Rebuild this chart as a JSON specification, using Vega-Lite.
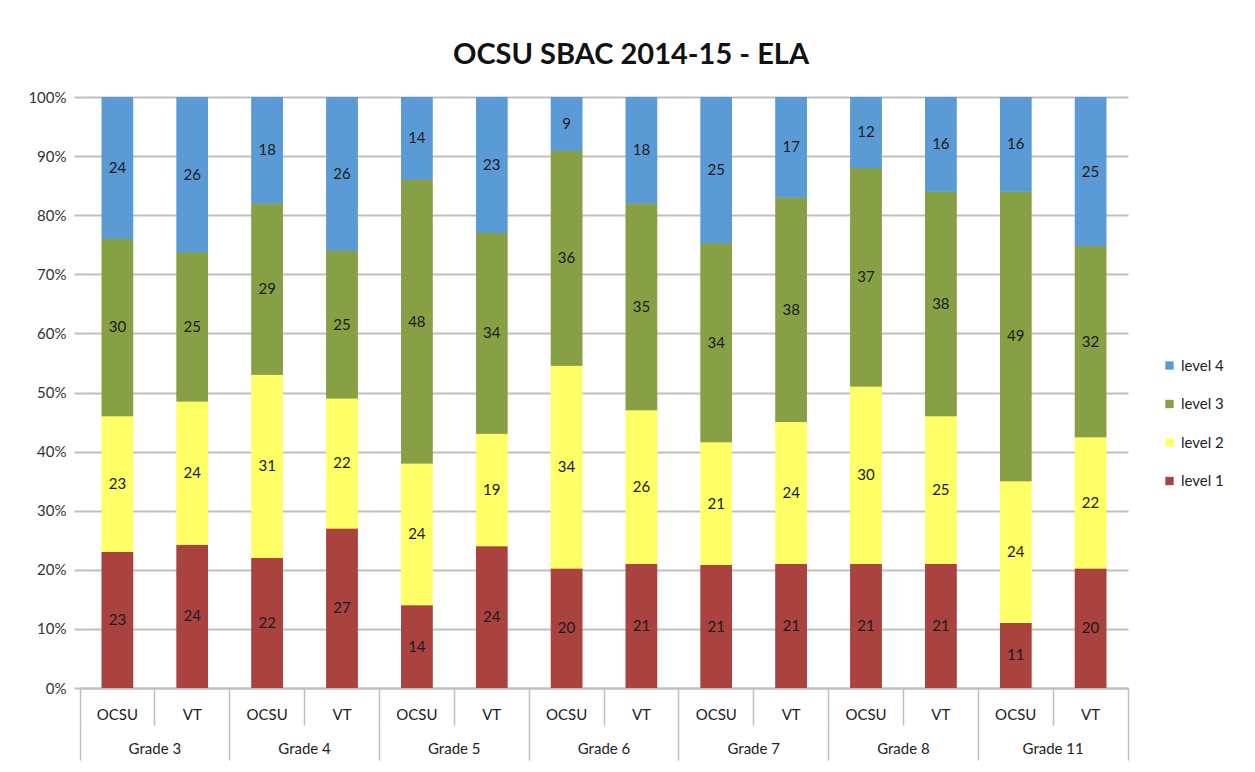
{
  "$schema": "https://vega.github.io/schema/vega-lite/v6.json",
  "width": 1048,
  "height": 591,
  "autosize": {"type": "none"},
  "padding": {"left": 80, "top": 97, "right": 127, "bottom": 84},
  "background": "white",
  "config": {"view": {"stroke": null}, "font": "Lato"},
  "title": {"text": "OCSU SBAC 2014-15 - ELA", "fontSize": 29, "font": "Lato", "fontWeight": "bold", "color": "#111111", "anchor": "middle", "frame": "group", "offset": 20, "dx": 27},
  "data": {"values": [
    {"bar": "Grade 3|OCSU", "level": "level 1", "value": 23},
    {"bar": "Grade 3|OCSU", "level": "level 2", "value": 23},
    {"bar": "Grade 3|OCSU", "level": "level 3", "value": 30},
    {"bar": "Grade 3|OCSU", "level": "level 4", "value": 24},
    {"bar": "Grade 3|VT", "level": "level 1", "value": 24},
    {"bar": "Grade 3|VT", "level": "level 2", "value": 24},
    {"bar": "Grade 3|VT", "level": "level 3", "value": 25},
    {"bar": "Grade 3|VT", "level": "level 4", "value": 26},
    {"bar": "Grade 4|OCSU", "level": "level 1", "value": 22},
    {"bar": "Grade 4|OCSU", "level": "level 2", "value": 31},
    {"bar": "Grade 4|OCSU", "level": "level 3", "value": 29},
    {"bar": "Grade 4|OCSU", "level": "level 4", "value": 18},
    {"bar": "Grade 4|VT", "level": "level 1", "value": 27},
    {"bar": "Grade 4|VT", "level": "level 2", "value": 22},
    {"bar": "Grade 4|VT", "level": "level 3", "value": 25},
    {"bar": "Grade 4|VT", "level": "level 4", "value": 26},
    {"bar": "Grade 5|OCSU", "level": "level 1", "value": 14},
    {"bar": "Grade 5|OCSU", "level": "level 2", "value": 24},
    {"bar": "Grade 5|OCSU", "level": "level 3", "value": 48},
    {"bar": "Grade 5|OCSU", "level": "level 4", "value": 14},
    {"bar": "Grade 5|VT", "level": "level 1", "value": 24},
    {"bar": "Grade 5|VT", "level": "level 2", "value": 19},
    {"bar": "Grade 5|VT", "level": "level 3", "value": 34},
    {"bar": "Grade 5|VT", "level": "level 4", "value": 23},
    {"bar": "Grade 6|OCSU", "level": "level 1", "value": 20},
    {"bar": "Grade 6|OCSU", "level": "level 2", "value": 34},
    {"bar": "Grade 6|OCSU", "level": "level 3", "value": 36},
    {"bar": "Grade 6|OCSU", "level": "level 4", "value": 9},
    {"bar": "Grade 6|VT", "level": "level 1", "value": 21},
    {"bar": "Grade 6|VT", "level": "level 2", "value": 26},
    {"bar": "Grade 6|VT", "level": "level 3", "value": 35},
    {"bar": "Grade 6|VT", "level": "level 4", "value": 18},
    {"bar": "Grade 7|OCSU", "level": "level 1", "value": 21},
    {"bar": "Grade 7|OCSU", "level": "level 2", "value": 21},
    {"bar": "Grade 7|OCSU", "level": "level 3", "value": 34},
    {"bar": "Grade 7|OCSU", "level": "level 4", "value": 25},
    {"bar": "Grade 7|VT", "level": "level 1", "value": 21},
    {"bar": "Grade 7|VT", "level": "level 2", "value": 24},
    {"bar": "Grade 7|VT", "level": "level 3", "value": 38},
    {"bar": "Grade 7|VT", "level": "level 4", "value": 17},
    {"bar": "Grade 8|OCSU", "level": "level 1", "value": 21},
    {"bar": "Grade 8|OCSU", "level": "level 2", "value": 30},
    {"bar": "Grade 8|OCSU", "level": "level 3", "value": 37},
    {"bar": "Grade 8|OCSU", "level": "level 4", "value": 12},
    {"bar": "Grade 8|VT", "level": "level 1", "value": 21},
    {"bar": "Grade 8|VT", "level": "level 2", "value": 25},
    {"bar": "Grade 8|VT", "level": "level 3", "value": 38},
    {"bar": "Grade 8|VT", "level": "level 4", "value": 16},
    {"bar": "Grade 11|OCSU", "level": "level 1", "value": 11},
    {"bar": "Grade 11|OCSU", "level": "level 2", "value": 24},
    {"bar": "Grade 11|OCSU", "level": "level 3", "value": 49},
    {"bar": "Grade 11|OCSU", "level": "level 4", "value": 16},
    {"bar": "Grade 11|VT", "level": "level 1", "value": 20},
    {"bar": "Grade 11|VT", "level": "level 2", "value": 22},
    {"bar": "Grade 11|VT", "level": "level 3", "value": 32},
    {"bar": "Grade 11|VT", "level": "level 4", "value": 25}
  ]},
  "layer": [
    {
      "mark": {"type": "bar", "width": {"band": 0.42}},
      "encoding": {
        "x": {"field": "bar", "type": "nominal", "sort": null,
          "scale": {"paddingInner": 0, "paddingOuter": 0},
          "axis": {"orient": "bottom", "title": null, "labelExpr": "split(datum.value, '|')[1]", "bandPosition": 0,
            "tickSize": 37, "tickColor": "#BFBFBF", "tickWidth": 1.5, "domainColor": "#BFBFBF", "domainWidth": 2,
            "labelAngle": 0, "labelBaseline": "middle", "labelPadding": -11, "labelFontSize": 15, "labelFont": "Lato", "labelColor": "#222222", "grid": false}},
        "y": {"field": "value", "type": "quantitative", "stack": "normalize",
          "scale": {"domain": [0, 1]},
          "axis": {"title": null, "values": [0, 0.1, 0.2, 0.3, 0.4, 0.5, 0.6, 0.7, 0.8, 0.9, 1], "format": ".0%", "domain": false,
            "tickSize": 6, "tickColor": "#BFBFBF", "tickWidth": 2, "gridColor": "#BFBFBF", "gridWidth": 2,
            "labelFontSize": 15, "labelFont": "Lato", "labelColor": "#333333", "labelPadding": 8}},
        "color": {"field": "level", "type": "nominal",
          "scale": {"domain": ["level 4", "level 3", "level 2", "level 1"], "range": ["#5B9BD5", "#87A046", "#FFFF66", "#AA433F"]},
          "legend": {"orient": "none", "legendX": 1082, "legendY": 261, "title": null, "symbolType": "square", "symbolSize": 70, "symbolStrokeWidth": 0,
            "labelFontSize": 15, "labelFont": "Lato", "labelColor": "#222222", "rowPadding": 22.5, "labelOffset": 4}},
        "order": {"field": "level", "type": "ordinal", "sort": "ascending"}
      }
    },
    {
      "mark": {"type": "bar", "width": {"band": 0.42}},
      "encoding": {
        "x": {"field": "bar", "type": "nominal", "sort": null,
          "scale": {"paddingInner": 0, "paddingOuter": 0},
          "axis": {"orient": "bottom", "title": null, "values": ["Grade 11|VT"], "bandPosition": 1, "labels": false,
            "tickSize": 72, "tickColor": "#BFBFBF", "tickWidth": 1.5, "domain": false, "grid": false}},
        "y": {"field": "value", "type": "quantitative", "stack": "normalize",
          "scale": {"domain": [0, 1]},
          "axis": {"title": null, "values": [0, 0.1, 0.2, 0.3, 0.4, 0.5, 0.6, 0.7, 0.8, 0.9, 1], "format": ".0%", "domain": false,
            "tickSize": 6, "tickColor": "#BFBFBF", "tickWidth": 2, "gridColor": "#BFBFBF", "gridWidth": 2,
            "labelFontSize": 15, "labelFont": "Lato", "labelColor": "#333333", "labelPadding": 8}},
        "color": {"field": "level", "type": "nominal",
          "scale": {"domain": ["level 4", "level 3", "level 2", "level 1"], "range": ["#5B9BD5", "#87A046", "#FFFF66", "#AA433F"]}},
        "order": {"field": "level", "type": "ordinal", "sort": "ascending"}
      }
    },
    {
      "mark": {"type": "text", "fontSize": 15, "font": "Lato", "color": "#1a1a1a", "baseline": "middle"},
      "encoding": {
        "x": {"field": "bar", "type": "nominal", "sort": null,
          "scale": {"paddingInner": 0, "paddingOuter": 0},
          "axis": {"orient": "bottom", "offset": 37, "title": null, "bandPosition": 0,
            "values": ["Grade 3|OCSU", "Grade 4|OCSU", "Grade 5|OCSU", "Grade 6|OCSU", "Grade 7|OCSU", "Grade 8|OCSU", "Grade 11|OCSU"],
            "labelExpr": "split(datum.value, '|')[0]",
            "tickSize": 35, "tickColor": "#BFBFBF", "tickWidth": 1.5,
            "domain": false, "labelOffset": 37.43, "labelAngle": 0, "labelBaseline": "middle", "labelPadding": -12,
            "labelFontSize": 15, "labelFont": "Lato", "labelColor": "#222222", "grid": false}},
        "y": {"field": "value", "type": "quantitative", "stack": "normalize", "bandPosition": 0.5,
          "scale": {"domain": [0, 1]},
          "axis": {"title": null, "values": [0, 0.1, 0.2, 0.3, 0.4, 0.5, 0.6, 0.7, 0.8, 0.9, 1], "format": ".0%", "domain": false,
            "tickSize": 6, "tickColor": "#BFBFBF", "tickWidth": 2, "gridColor": "#BFBFBF", "gridWidth": 2,
            "labelFontSize": 15, "labelFont": "Lato", "labelColor": "#333333", "labelPadding": 8}},
        "text": {"field": "value", "type": "quantitative"},
        "order": {"field": "level", "type": "ordinal", "sort": "ascending"}
      }
    }
  ],
  "resolve": {"axis": {"x": "independent"}}
}
